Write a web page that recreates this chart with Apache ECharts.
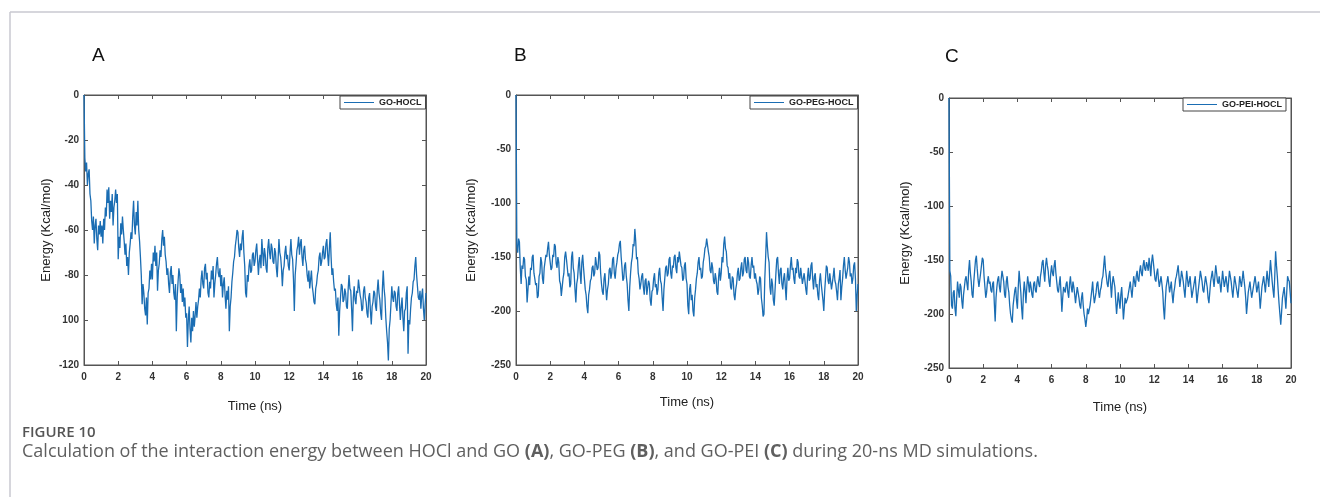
<!DOCTYPE html>
<html>
<head>
<meta charset="utf-8">
<script src="https://cdn.jsdelivr.net/npm/echarts@6/dist/echarts.min.js"></script>
<style>
html,body{margin:0;padding:0;background:#fff;}
#chart{width:1320px;height:497px;}
</style>
</head>
<body>
<div id="chart"></div>
<script>
// ---- data: energies sampled every 0.05 ns from 0 to 20 ns (one row = 1 ns) ----
const timeStart = 0;
const timeEnd = 20;
const xTicks = [0, 2, 4, 6, 8, 10, 12, 14, 16, 18, 20];

const seriesNameA = 'GO-HOCL';
const seriesNameB = 'GO-PEG-HOCL';
const seriesNameC = 'GO-PEI-HOCL';

const energyA = [
  0, -28, -34, -30, -40, -35, -33, -44, -47, -56, -60, -54, -66, -58, -55, -64, -69, -58, -62, -56,
  -63, -58, -66, -55, -60, -50, -54, -42, -48, -41, -55, -47, -52, -44, -58, -50, -47, -42, -48, -44,
  -73, -63, -68, -57, -62, -54, -60, -65, -71, -66, -76, -72, -80, -70, -66, -61, -64, -54, -47, -58,
  -62, -52, -58, -47, -60, -65, -72, -80, -93, -84, -88, -95, -98, -90, -102, -88, -86, -78, -82, -75,
  -82, -70, -74, -67, -76, -70, -87, -78, -75, -69, -72, -64, -60, -67, -63, -71, -74, -80, -77, -84,
  -88, -79, -76, -84, -80, -88, -91, -84, -105, -90, -83, -77, -80, -88, -84, -92, -86, -94, -90, -99,
  -97, -112, -100, -94, -104, -110, -99, -105, -96, -103, -98, -92, -99, -94, -91, -86, -90, -82, -78, -84,
  -86, -77, -75, -82, -79, -88, -90, -83, -86, -78, -82, -76, -90, -84, -80, -75, -72, -79, -81, -77,
  -85, -80, -90, -84, -81, -89, -95, -87, -91, -85, -105, -94, -90, -83, -79, -74, -72, -67, -64, -60,
  -61, -68, -72, -66, -69, -63, -60, -70, -76, -88, -90, -80, -83, -76, -73, -79, -78, -71, -70, -76,
  -74, -69, -66, -73, -80, -74, -71, -77, -64, -70, -76, -68, -71, -77, -79, -68, -64, -70, -73, -66,
  -68, -74, -75, -68, -70, -77, -81, -73, -64, -70, -72, -77, -85, -78, -76, -70, -67, -73, -71, -76,
  -78, -70, -64, -71, -73, -82, -96, -80, -75, -69, -67, -63, -71, -66, -64, -72, -76, -69, -67, -73,
  -75, -80, -83, -78, -86, -82, -78, -85, -88, -92, -93, -86, -84, -80, -78, -72, -70, -76, -74, -70,
  -67, -73, -72, -66, -64, -71, -76, -68, -61, -72, -80, -77, -83, -87, -86, -93, -96, -90, -107, -96,
  -90, -84, -85, -92, -91, -86, -88, -94, -95, -86, -80, -86, -87, -95, -105, -90, -85, -91, -93, -87,
  -88, -82, -82, -89, -91, -96, -95, -87, -85, -90, -92, -97, -99, -90, -88, -96, -102, -94, -92, -87,
  -88, -94, -96, -87, -82, -88, -91, -97, -100, -86, -78, -86, -90, -99, -105, -110, -118, -104, -100, -93,
  -85, -90, -92, -87, -88, -94, -96, -88, -85, -93, -100, -94, -90, -99, -105, -96, -95, -88, -85, -115,
  -100, -102, -95, -90, -88, -83, -82, -76, -72, -80, -85, -90, -91, -87, -95, -89, -86, -95, -100, -93,
  -88
];

const energyB = [
  0, -140, -146, -133, -136, -160, -175, -158, -161, -150, -152, -168, -171, -192, -180, -168, -176, -160, -162, -150,
  -148, -165, -170, -176, -174, -188, -186, -168, -165, -150, -155, -170, -175, -160, -161, -148, -150, -142, -136, -148,
  -155, -162, -160, -148, -150, -138, -140, -156, -160, -150, -155, -172, -175, -186, -185, -170, -165, -150, -145, -152,
  -160, -168, -165, -178, -175, -150, -145, -160, -165, -180, -192, -175, -170, -158, -150, -165, -175, -155, -148, -160,
  -170, -180, -185, -196, -202, -185, -180, -172, -170, -160, -158, -168, -165, -150, -150, -162, -160, -145, -148, -165,
  -175, -182, -185, -170, -165, -178, -190, -180, -175, -162, -160, -170, -165, -152, -150, -165, -170, -160, -155, -148,
  -145, -138, -135, -150, -160, -172, -170, -158, -155, -168, -175, -190, -200, -178, -165, -155, -150, -138, -140, -124,
  -135, -152, -150, -165, -170, -180, -175, -168, -165, -178, -185, -172, -170, -185, -185, -172, -175, -190, -195, -182,
  -180, -170, -165, -178, -175, -185, -180, -165, -160, -172, -175, -188, -200, -180, -170, -160, -158, -168, -165, -152,
  -150, -165, -170, -158, -160, -150, -148, -160, -165, -150, -155, -145, -145, -158, -160, -172, -170, -158, -155, -170,
  -175, -195, -203, -180, -175, -190, -185, -200, -205, -188, -180, -170, -165, -155, -150, -162, -160, -170, -168, -155,
  -150, -142, -140, -133, -134, -145, -150, -162, -165, -155, -160, -172, -175, -165, -170, -182, -185, -168, -160, -172,
  -165, -150, -155, -138, -131, -142, -145, -158, -160, -170, -165, -178, -180, -168, -170, -185, -190, -180, -175, -165,
  -160, -172, -170, -160, -155, -168, -165, -152, -150, -162, -165, -150, -155, -168, -170, -158, -150, -160, -158, -170,
  -165, -172, -175, -185, -180, -168, -170, -188, -195, -205, -203, -170, -150, -127, -140, -150, -155, -178, -185, -170,
  -175, -190, -195, -180, -165, -152, -150, -165, -175, -162, -160, -175, -180, -170, -165, -178, -190, -170, -160, -172,
  -170, -158, -150, -162, -160, -170, -175, -160, -165, -152, -155, -168, -170, -160, -160, -175, -175, -165, -165, -180,
  -185, -168, -160, -172, -170, -158, -155, -170, -180, -168, -165, -178, -175, -185, -190, -172, -165, -175, -175, -190,
  -200, -182, -170, -158, -160, -172, -175, -165, -165, -180, -180, -168, -160, -172, -175, -182, -190, -175, -170, -162,
  -190, -178, -170, -158, -150, -162, -170, -165, -160, -150, -155, -168, -165, -175, -170, -158, -155, -170, -200, -185,
  -175
];

const energyC = [
  0, -160, -165, -192, -195, -180, -178, -195, -202, -185, -170, -178, -185, -172, -175, -188, -195, -182, -175, -168,
  -165, -172, -178, -160, -150, -162, -170, -182, -185, -170, -160, -150, -146, -158, -168, -175, -175, -162, -155, -148,
  -150, -165, -175, -185, -180, -170, -165, -172, -170, -178, -180, -172, -170, -190, -207, -185, -175, -168, -165, -175,
  -180, -168, -160, -165, -170, -182, -185, -170, -165, -175, -180, -192, -200, -205, -208, -192, -185, -178, -175, -188,
  -195, -175, -160, -170, -180, -195, -205, -182, -170, -178, -190, -175, -165, -172, -180, -170, -175, -182, -185, -172,
  -170, -178, -180, -170, -165, -172, -175, -165, -160, -152, -150, -162, -170, -155, -148, -155, -160, -170, -175, -162,
  -155, -162, -165, -155, -150, -162, -170, -178, -180, -172, -165, -180, -198, -185, -175, -178, -180, -172, -170, -180,
  -185, -172, -165, -175, -180, -170, -175, -182, -190, -182, -175, -180, -185, -192, -195, -185, -180, -192, -200, -205,
  -212, -205, -195, -200, -200, -192, -185, -178, -170, -182, -190, -185, -180, -172, -170, -180, -185, -178, -175, -168,
  -165, -155, -146, -158, -165, -172, -175, -165, -160, -172, -185, -172, -165, -170, -175, -188, -200, -190, -180, -188,
  -195, -182, -175, -190, -205, -195, -185, -190, -190, -185, -180, -175, -170, -178, -185, -175, -165, -170, -175, -165,
  -160, -168, -170, -160, -155, -162, -165, -155, -150, -158, -160, -152, -155, -160, -148, -155, -165, -152, -145, -152,
  -160, -168, -170, -162, -158, -168, -175, -170, -165, -172, -180, -195, -205, -188, -175, -170, -165, -172, -180, -175,
  -170, -182, -190, -180, -175, -168, -165, -160, -155, -165, -175, -168, -160, -165, -170, -178, -185, -172, -160, -168,
  -175, -170, -165, -175, -185, -180, -175, -170, -165, -178, -190, -182, -175, -168, -160, -165, -170, -178, -180, -172,
  -165, -170, -175, -185, -190, -180, -170, -165, -160, -168, -175, -165, -155, -162, -170, -172, -165, -172, -180, -170,
  -160, -168, -175, -170, -165, -172, -180, -170, -160, -165, -170, -178, -185, -175, -165, -170, -175, -180, -185, -175,
  -165, -170, -175, -168, -160, -168, -175, -185, -200, -190, -180, -175, -170, -178, -185, -180, -175, -170, -165, -172,
  -180, -175, -170, -182, -195, -185, -175, -170, -165, -172, -180, -170, -160, -168, -175, -162, -150, -160, -170, -178,
  -185, -165, -142, -155, -165, -178, -190, -200, -210, -198, -185, -180, -175, -185, -195, -180, -165, -168, -170, -180,
  -190
];

const yTicksA = [0, -20, -40, -60, -80, -100, -120];
const yLabelsA = ['0', '-20', '-40', '-60', '-80', '100', '-120'];
const yTicksBC = [0, -50, -100, -150, -200, -250];
const yLabelsBC = ['0', '-50', '-100', '-150', '-200', '-250'];

const panelLetters = ['A', 'B', 'C'];
const xAxisTitle = 'Time (ns)';
const yAxisTitle = 'Energy (Kcal/mol)';
const figureLabel = 'FIGURE 10';

// ---- build ----
function pairs(arr) {
  const step = (timeEnd - timeStart) / (arr.length - 1);
  return arr.map((v, i) => [timeStart + i * step, v]);
}
function labelFmt(ticks, labels) {
  return function (v) { const i = ticks.indexOf(v); return i >= 0 ? labels[i] : ''; };
}

const LINE = '#1a6db3';
const AXIS = '#555';
const FONT = '"Liberation Sans", Arial, sans-serif';
const labelFont = { fontFamily: FONT, fontSize: 10, fontWeight: 'bold', color: '#333' };

const panels = [
  { grid: { left: 84, top: 95, width: 342, height: 270 }, min: -120, max: 0, interval: 20, ticks: yTicksA, labels: yLabelsA, xGap: 35, yGap: 31, name: seriesNameA, data: energyA,
    legend: { left: 340, top: 96 } },
  { grid: { left: 516, top: 95, width: 342, height: 270 }, min: -250, max: 0, interval: 50, ticks: yTicksBC, labels: yLabelsBC, xGap: 31, yGap: 38, name: seriesNameB, data: energyB,
    legend: { left: 750, top: 96 } },
  { grid: { left: 949, top: 98, width: 342, height: 270 }, min: -250, max: 0, interval: 50, ticks: yTicksBC, labels: yLabelsBC, xGap: 33, yGap: 37, name: seriesNameC, data: energyC,
    legend: { left: 1183, top: 98 } }
];

const grid = [], xAxis = [], yAxis = [], series = [], legend = [];
panels.forEach((p, k) => {
  grid.push(Object.assign({ show: true, borderColor: AXIS, borderWidth: 1, backgroundColor: '#fff' }, p.grid));
  xAxis.push({
    type: 'value', gridIndex: k, min: 0, max: 20, interval: 2, position: 'bottom',
    name: xAxisTitle, nameLocation: 'middle', nameGap: p.xGap,
    nameTextStyle: { fontFamily: FONT, fontSize: 13, color: '#222' },
    axisLine: { show: true, onZero: false, lineStyle: { color: AXIS, width: 1 } },
    axisTick: { show: true, inside: true, length: 4, lineStyle: { color: AXIS } },
    axisLabel: Object.assign({ margin: 7, formatter: v => xTicks.indexOf(v) >= 0 ? String(v) : '' }, labelFont),
    splitLine: { show: false }
  });
  xAxis.push({
    type: 'value', gridIndex: k, min: 0, max: 20, interval: 2, position: 'top',
    axisLine: { show: true, onZero: false, lineStyle: { color: AXIS, width: 1 } },
    axisTick: { show: true, inside: true, length: 4, lineStyle: { color: AXIS } },
    axisLabel: { show: false }, splitLine: { show: false }
  });
  yAxis.push({
    type: 'value', gridIndex: k, min: p.min, max: p.max, interval: p.interval, position: 'left',
    name: yAxisTitle, nameLocation: 'middle', nameGap: p.yGap, nameRotate: 90,
    nameTextStyle: { fontFamily: FONT, fontSize: 13, color: '#222' },
    axisLine: { show: true, onZero: false, lineStyle: { color: AXIS, width: 1 } },
    axisTick: { show: true, inside: true, length: 4, lineStyle: { color: AXIS } },
    axisLabel: Object.assign({ margin: 5, formatter: labelFmt(p.ticks, p.labels) }, labelFont),
    splitLine: { show: false }
  });
  yAxis.push({
    type: 'value', gridIndex: k, min: p.min, max: p.max, interval: p.interval, position: 'right',
    axisLine: { show: true, onZero: false, lineStyle: { color: AXIS, width: 1 } },
    axisTick: { show: true, inside: true, length: 4, lineStyle: { color: AXIS } },
    axisLabel: { show: false }, splitLine: { show: false }
  });
  series.push({
    type: 'line', name: p.name, xAxisIndex: 2 * k, yAxisIndex: 2 * k,
    data: pairs(p.data), showSymbol: false, symbol: 'none', smooth: false,
    lineStyle: { color: LINE, width: 1.3 }, itemStyle: { color: LINE },
    animation: false, z: 3
  });
  legend.push({
    data: [p.name], left: p.legend.left, top: p.legend.top,
    orient: 'horizontal', backgroundColor: '#fff',
    borderColor: '#444', borderWidth: 1, borderRadius: 0,
    padding: [2, 4, 2, 4], itemWidth: 30, itemHeight: 1, icon: 'rect', itemGap: 5,
    selectedMode: false,
    textStyle: { fontFamily: FONT, fontSize: 9, fontWeight: 'bold', color: '#222', padding: [1, 0, 0, 0] }
  });
});

const letterPos = [[92, 46], [514, 46], [945, 47]];
const graphic = [
  { type: 'line', shape: { x1: 10, y1: 12, x2: 1320, y2: 12 }, style: { stroke: '#c9c9d1', lineWidth: 1.5 }, silent: true },
  { type: 'line', shape: { x1: 10, y1: 12, x2: 10, y2: 497 }, style: { stroke: '#c9c9d1', lineWidth: 1.5 }, silent: true }
];
panelLetters.forEach((L, i) => {
  graphic.push({ type: 'text', left: letterPos[i][0], top: letterPos[i][1],
    style: { text: L, font: '19px "Liberation Sans", Arial, sans-serif', fill: '#111' } });
});
graphic.push({ type: 'text', left: 22, top: 425,
  style: { text: figureLabel, font: '600 15px "Open Sans", sans-serif', fill: '#555' } });
graphic.push({ type: 'text', left: 22, top: 443,
  style: {
    text: '{n|Calculation of the interaction energy between HOCl and GO }{b|(A)}{n|, GO-PEG }{b|(B)}{n|, and GO-PEI }{b|(C)}{n| during 20-ns MD simulations.}',
    rich: {
      n: { font: '18px "Open Sans", sans-serif', fill: '#5f5f5f' },
      b: { font: 'bold 18px "Open Sans", sans-serif', fill: '#5f5f5f' }
    }
  } });

const chart = echarts.init(document.getElementById('chart'), null, { renderer: 'canvas' });
chart.setOption({
  animation: false,
  backgroundColor: '#fff',
  grid, xAxis, yAxis, series, legend, graphic
});
</script>
</body>
</html>
